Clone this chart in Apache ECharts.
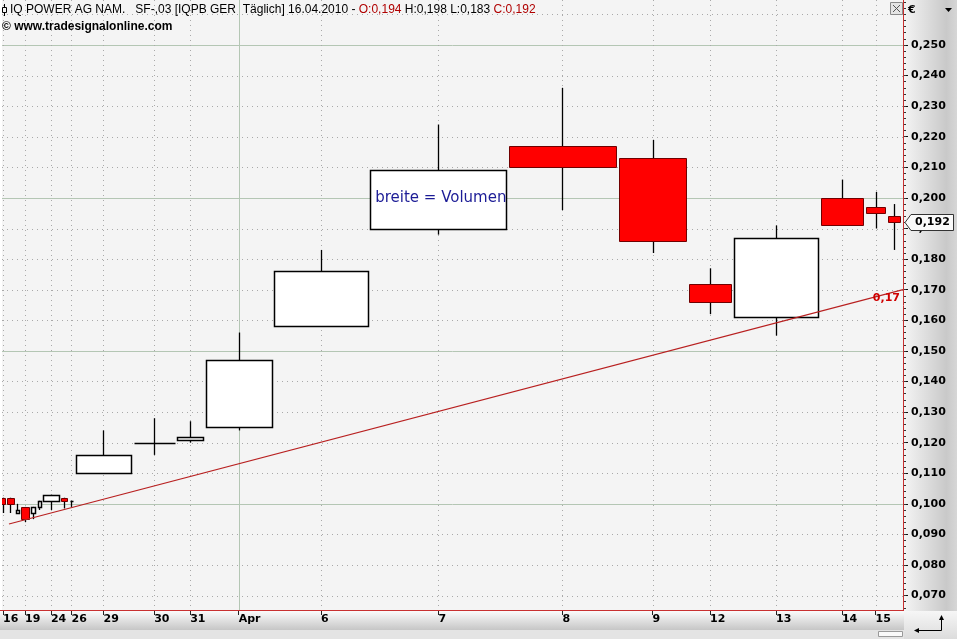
<!DOCTYPE html>
<html><head><meta charset="utf-8">
<script src="https://cdn.jsdelivr.net/npm/echarts@6/dist/echarts.min.js"></script>
<style>html,body{margin:0;padding:0;background:#fff}#c{width:957px;height:639px}</style>
</head><body><div id="c"></div>
<script>
// ---- data ----
const dates = ['16.03.2010','17.03.2010','18.03.2010','19.03.2010','22.03.2010','23.03.2010','24.03.2010','25.03.2010','26.03.2010','29.03.2010','30.03.2010','31.03.2010','01.04.2010','06.04.2010','07.04.2010','08.04.2010','09.04.2010','12.04.2010','13.04.2010','14.04.2010','15.04.2010','16.04.2010'];
const dayLabels = ['16','','','19','','','24','','26','29','30','31','Apr','6','7','8','9','12','13','14','15',''];
const openV  = [0.102,0.102,0.097,0.099,0.097,0.099,0.101,0.102,0.101,0.110,0.120,0.121,0.125,0.158,0.190,0.217,0.213,0.172,0.161,0.200,0.197,0.194];
const highV  = [0.102,0.102,0.100,0.099,0.099,0.101,0.103,0.102,0.101,0.124,0.128,0.127,0.156,0.183,0.224,0.236,0.219,0.177,0.191,0.206,0.202,0.198];
const lowV   = [0.097,0.097,0.097,0.094,0.095,0.098,0.098,0.0985,0.099,0.110,0.116,0.120,0.124,0.158,0.188,0.196,0.182,0.162,0.155,0.191,0.190,0.183];
const closeV = [0.100,0.100,0.098,0.095,0.099,0.101,0.103,0.101,0.101,0.116,0.120,0.122,0.147,0.176,0.209,0.210,0.186,0.166,0.187,0.191,0.195,0.192];
const volume = [6.0,9.0,5.0,10.2,6.6,5.2,18.0,8.8,5.7,58.4,43.3,28.8,68.5,96.5,138.7,110.0,70.5,44.8,87.4,44.8,22.5,14.5];
const trendX = [9, 905];
const trendY = [0.0934, 0.170];
const trendLabel = '0,17';
const yTickLabels = [0.07,0.08,0.09,0.10,0.11,0.12,0.13,0.14,0.15,0.16,0.17,0.18,0.19,0.20,0.21,0.22,0.23,0.24,0.25];
const yGridLevels = [0.07,0.08,0.09,0.10,0.11,0.12,0.13,0.14,0.15,0.16,0.17,0.18,0.19,0.20,0.21,0.22,0.23,0.24,0.25,0.26];
const yMajorLevels = [0.10,0.15,0.20,0.25];
const annotation = {text: 'breite = Volumen', candle: 14, value: 0.200};

// ---- axis window ----
const X_MIN = 2, X_MAX = 905;
const Y_MIN = 0.0653, Y_MAX = 0.2647;

const fmt = v => v.toFixed(3).replace('.', ',');
const starts = []; let acc = 0;
volume.forEach(v => { starts.push(acc); acc += v; });
const centers = volume.map((v, i) => starts[i] + v / 2);
const candleData = volume.map((v, i) => [starts[i], starts[i] + v, openV[i], closeV[i], lowV[i], highV[i]]);
const labeledIdx = dayLabels.map((d, i) => d ? i : -1).filter(i => i >= 0);
const xTickVals = labeledIdx.map(i => centers[i]);
const minorTicks = []; for (let k = 33; k <= 132; k++) minorTicks.push(+(k * 0.002).toFixed(3));

const gridData = [];
yGridLevels.forEach(v => gridData.push([0, v, yMajorLevels.some(m => Math.abs(m - v) < 1e-9) ? 1 : 0]));
labeledIdx.forEach(i => gridData.push([1, centers[i], /^[0-9]+$/.test(dayLabels[i]) ? 0 : 1]));

const GAP = 2.5;
function renderCandle(params, api) {
  const x0 = api.value(0), x1 = api.value(1), o = api.value(2), c = api.value(3), l = api.value(4), h = api.value(5);
  const pL = api.coord([x0, o]), pR = api.coord([x1, c]);
  let left = Math.round(pL[0] + GAP / 2) + 0.5, right = Math.round(pR[0] - GAP / 2) + 0.5;
  if (right - left < 1) right = left + 1;
  const cx = Math.round((pL[0] + pR[0]) / 2) + 0.5;
  const yO = Math.round(pL[1]) + 0.5, yC = Math.round(pR[1]) + 0.5;
  const yH = api.coord([x0, h])[1], yL = api.coord([x0, l])[1];
  const up = c >= o;
  return {type: 'group', children: [
    {type: 'line', shape: {x1: cx, y1: yH, x2: cx, y2: yL}, style: {stroke: '#000', lineWidth: 1.3}},
    {type: 'rect', shape: {x: left, y: Math.min(yO, yC), width: right - left, height: Math.abs(yO - yC)},
     style: {fill: up ? '#ffffff' : '#ff0000', stroke: up ? '#000' : '#700000', lineWidth: up ? 1.5 : 1}}
  ]};
}
function renderGrid(params, api) {
  const cs = params.coordSys;
  const kind = api.value(0), v = api.value(1), solid = api.value(2);
  const style = solid ? {stroke: '#b4c6b4', lineWidth: 1} : {stroke: '#a9a9a9', lineWidth: 1, lineDash: [1, 4]};
  if (kind === 0) {
    const y = Math.round(api.coord([X_MIN, v])[1]) + 0.5;
    return {type: 'line', shape: {x1: cs.x, y1: y, x2: cs.x + cs.width, y2: y}, style};
  }
  const x = Math.round(api.coord([v, Y_MIN])[0]) + 0.5;
  return {type: 'line', shape: {x1: x, y1: cs.y, x2: x, y2: cs.y + cs.height}, style};
}

const chart = echarts.init(document.getElementById('c'));
const axisFont = {fontFamily: 'DejaVu Sans', fontWeight: 'bold', fontSize: 11, color: '#000'};
chart.setOption({
  animation: false,
  backgroundColor: '#ffffff',
  grid: {left: 0, top: 0, right: 54, bottom: 29, show: true, backgroundColor: '#f4f4f4', borderWidth: 0},
  xAxis: {type: 'value', min: X_MIN, max: X_MAX, z: 5,
    axisLine: {show: false}, splitLine: {show: false},
    axisTick: {show: true, customValues: xTickVals, length: 5, lineStyle: {color: '#222'}},
    axisLabel: Object.assign({customValues: xTickVals, align: 'left', margin: 4,
      formatter: (val) => { let best = 0; labeledIdx.forEach((i, k) => { if (Math.abs(centers[i] - val) < Math.abs(centers[labeledIdx[best]] - val)) best = k; }); return dayLabels[labeledIdx[best]]; }}, axisFont)},
  yAxis: [
    {type: 'value', position: 'right', min: Y_MIN, max: Y_MAX, z: 5,
      axisLine: {show: false}, splitLine: {show: false},
      axisTick: {show: true, customValues: yTickLabels, length: 5, lineStyle: {color: '#111'}},
      axisLabel: Object.assign({customValues: yTickLabels, margin: 8, formatter: v => fmt(v)}, axisFont)},
    {type: 'value', position: 'right', min: Y_MIN, max: Y_MAX, z: 5,
      axisLine: {show: false}, splitLine: {show: false},
      axisTick: {show: true, customValues: minorTicks, length: 3, lineStyle: {color: '#333'}},
      axisLabel: {show: false}}
  ],
  series: [
    {type: 'custom', name: 'grid', z: 1, silent: true, clip: true, renderItem: renderGrid, data: gridData},
    {type: 'custom', name: 'IQPB', z: 2, clip: true, renderItem: renderCandle, data: candleData},
    {type: 'line', name: 'trend', z: 3, symbol: 'none', clip: true, silent: true,
      lineStyle: {color: '#b82020', width: 1.2}, data: trendX.map((x, i) => [x, trendY[i]])}
  ]
});

const px = (x, y) => chart.convertToPixel({gridIndex: 0}, [x, y]);
const last = closeV.length - 1;
const pClose = px(X_MAX, closeV[last]);
const pTrend = px(trendX[1], trendY[1]);
const pAnno = px(starts[annotation.candle], annotation.value);
const titleText = 'IQ POWER AG NAM.   SF-,03 [IQPB GER  Täglich] ' + dates[last] + ' - {r|O:' + fmt(openV[last]) + '} H:' + fmt(highV[last]) + ' L:' + fmt(lowV[last]) + ' {r|C:' + fmt(closeV[last]) + '}';
const yc = Math.round(pClose[1]) + 0.5;

chart.setOption({graphic: [
  // right axis panel
  {type: 'rect', z: 1, shape: {x: 904, y: 0, width: 53, height: 611},
    style: {fill: new echarts.graphic.LinearGradient(0, 0, 1, 0, [{offset: 0, color: '#f4f4f4'}, {offset: 0.8, color: '#c9c9c9'}, {offset: 1, color: '#d6d6d6'}])}},
  // bottom axis bar
  {type: 'rect', z: 1, shape: {x: 0, y: 611, width: 904, height: 19},
    style: {fill: new echarts.graphic.LinearGradient(0, 0, 0, 1, [{offset: 0, color: '#fbfbfb'}, {offset: 1, color: '#c6c6c6'}])}},
  {type: 'rect', z: 1, shape: {x: 0, y: 630, width: 904, height: 9}, style: {fill: '#e4e4e4'}},
  {type: 'rect', z: 1, shape: {x: 878.5, y: 631.5, width: 24, height: 5}, style: {fill: '#fafafa', stroke: '#9a9a9a', lineWidth: 1}},
  // bottom-right corner
  {type: 'rect', z: 1, shape: {x: 904, y: 611, width: 53, height: 28},
    style: {fill: new echarts.graphic.LinearGradient(0, 0, 0, 1, [{offset: 0, color: '#f6f6f6'}, {offset: 1, color: '#dcdcdc'}])}},
  {type: 'polyline', z: 6, shape: {points: [[915, 630.5], [941.5, 630.5], [941.5, 617]]}, style: {stroke: '#000', lineWidth: 1, fill: null}},
  {type: 'polygon', z: 6, shape: {points: [[914, 630.5], [919, 628], [919, 633]]}, style: {fill: '#000'}},
  {type: 'polygon', z: 6, shape: {points: [[941.5, 615], [939, 620], [944, 620]]}, style: {fill: '#000'}},
  // frame
  {type: 'line', z: 8, shape: {x1: 903.5, y1: 0, x2: 903.5, y2: 611}, style: {stroke: '#c83030', lineWidth: 1}},
  {type: 'line', z: 8, shape: {x1: 0, y1: 610.5, x2: 904, y2: 610.5}, style: {stroke: '#c83030', lineWidth: 1}},
  // close button
  {type: 'rect', z: 8, shape: {x: 890.5, y: 2.5, width: 12, height: 12}, style: {fill: '#e4e4e4', stroke: '#8a8a8a', lineWidth: 1}},
  {type: 'line', z: 9, shape: {x1: 893, y1: 5, x2: 900, y2: 12}, style: {stroke: '#555', lineWidth: 1}},
  {type: 'line', z: 9, shape: {x1: 900, y1: 5, x2: 893, y2: 12}, style: {stroke: '#555', lineWidth: 1}},
  // currency + dropdown
  {type: 'text', z: 8, x: 908, y: 10, style: {text: '€', font: 'bold 11px "DejaVu Sans"', fill: '#000', verticalAlign: 'middle'}},
  {type: 'polygon', z: 8, shape: {points: [[945, 8], [952, 8], [948.5, 12]]}, style: {fill: '#000'}},
  // title
  {type: 'line', z: 6, shape: {x1: 4.5, y1: 4, x2: 4.5, y2: 16}, style: {stroke: '#000', lineWidth: 1}},
  {type: 'rect', z: 6, shape: {x: 2.5, y: 7.5, width: 4, height: 5}, style: {fill: '#f4f4f4', stroke: '#000', lineWidth: 1}},
  {type: 'text', z: 6, x: 10, y: 10, style: {text: titleText, fontFamily: 'Liberation Sans', fontSize: 12, fill: '#000', verticalAlign: 'middle',
    rich: {r: {fontFamily: 'Liberation Sans', fontSize: 12, fill: '#b00000'}}}},
  {type: 'text', z: 6, x: 2, y: 27, style: {text: '© www.tradesignalonline.com', fontFamily: 'Liberation Sans', fontWeight: 'bold', fontSize: 12, fill: '#000', verticalAlign: 'middle'}},
  // annotation
  {type: 'text', z: 6, x: pAnno[0] + 6, y: pAnno[1], style: {text: annotation.text, fontFamily: 'DejaVu Sans', fontSize: 15, fill: '#1c1c96', verticalAlign: 'middle'}},
  // trend label
  {type: 'text', z: 6, x: pTrend[0] - 3, y: pTrend[1] + 8, style: {text: trendLabel, fontFamily: 'DejaVu Sans', fontWeight: 'bold', fontSize: 11, fill: '#d00000', align: 'right', verticalAlign: 'middle'}},
  // last price marker
  {type: 'polygon', z: 10, shape: {points: [[905, yc], [911, yc - 8], [953.5, yc - 8], [953.5, yc + 8], [911, yc + 8]]}, style: {fill: '#fafafa', stroke: '#333', lineWidth: 1}},
  {type: 'text', z: 11, x: 915, y: yc, style: {text: fmt(closeV[last]), fontFamily: 'DejaVu Sans', fontWeight: 'bold', fontSize: 11, fill: '#000', verticalAlign: 'middle'}}
]});
</script></body></html>
